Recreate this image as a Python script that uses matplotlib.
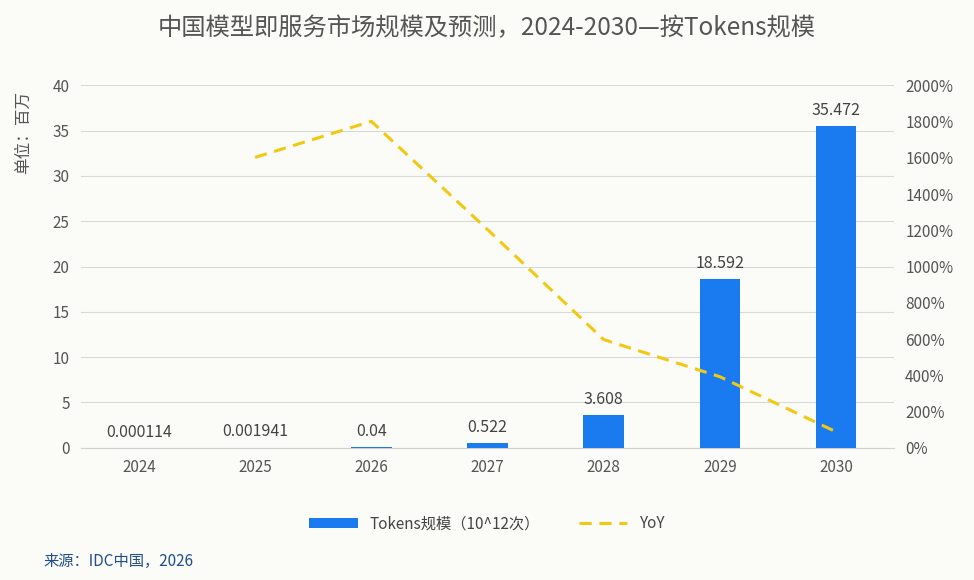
import matplotlib.pyplot as plt
import numpy as np

plt.rcParams['font.family'] = ['Noto Sans CJK SC', 'DejaVu Sans']

years = ['2024', '2025', '2026', '2027', '2028', '2029', '2030']
tokens = [0.000114, 0.001941, 0.04, 0.522, 3.608, 18.592, 35.472]
labels = ['0.000114', '0.001941', '0.04', '0.522', '3.608', '18.592', '35.472']
yoy_years = ['2025', '2026', '2027', '2028', '2029', '2030']
yoy = [1602, 1801, 1204, 597, 392, 88]

bg = '#fbfbf8'
fig = plt.figure(figsize=(9.74, 5.8), dpi=100, facecolor=bg)
ax = fig.add_axes([0.083, 0.228, 0.835, 0.625], facecolor=bg)
x = np.arange(len(years))
bars = ax.bar(x, tokens, width=0.35, color='#1a7af0', label='Tokens规模（10^12次）', zorder=3)
for xi, v, t in zip(x, tokens, labels):
    ax.text(xi, v + 0.8, t, ha='center', va='bottom', fontsize=11.5, color='#444444')
ax.set_ylim(0, 40)
ax.set_yticks(range(0, 41, 5))
ax.set_xlim(-0.5, 6.5)
ax.set_xticks(x)
ax.set_xticklabels(years)
ax.grid(axis='y', color='#d9d9d9', lw=0.8, zorder=0)
for s in ax.spines.values():
    s.set_visible(False)
ax.spines['bottom'].set_visible(True)
ax.spines['bottom'].set_color('#d0d0d0')
ax.tick_params(length=0, labelsize=11, colors='#555555', pad=8)
ax.set_ylabel('单位：百万', fontsize=12, color='#555555')
ax.yaxis.set_label_coords(-0.06, 0.87)

ax2 = ax.twinx()
xi2 = [years.index(y) for y in yoy_years]
line, = ax2.plot(xi2, yoy, ls='--', color='#f2c811', lw=2.2, dashes=(4, 2.5), label='YoY', zorder=4)
ax2.set_ylim(0, 2000)
ax2.set_yticks(range(0, 2001, 200))
ax2.set_yticklabels([f'{v}%' for v in range(0, 2001, 200)])
for s in ax2.spines.values():
    s.set_visible(False)
ax2.tick_params(length=0, labelsize=11, colors='#555555', pad=8)

fig.text(0.5, 0.94, '中国模型即服务市场规模及预测，2024-2030—按Tokens规模', ha='center',
         fontsize=17.5, color='#555555')
fig.legend([bars, line], ['Tokens规模（10^12次）', 'YoY'], loc='center', ncol=2,
           bbox_to_anchor=(0.5, 0.097), frameon=False, fontsize=11, handlelength=3.2,
           columnspacing=2.5, labelcolor='#444444')
fig.text(0.045, 0.025, '来源：IDC中国，2026', fontsize=11, color='#1f4e8c')
fig.savefig('out.png', facecolor=bg)
